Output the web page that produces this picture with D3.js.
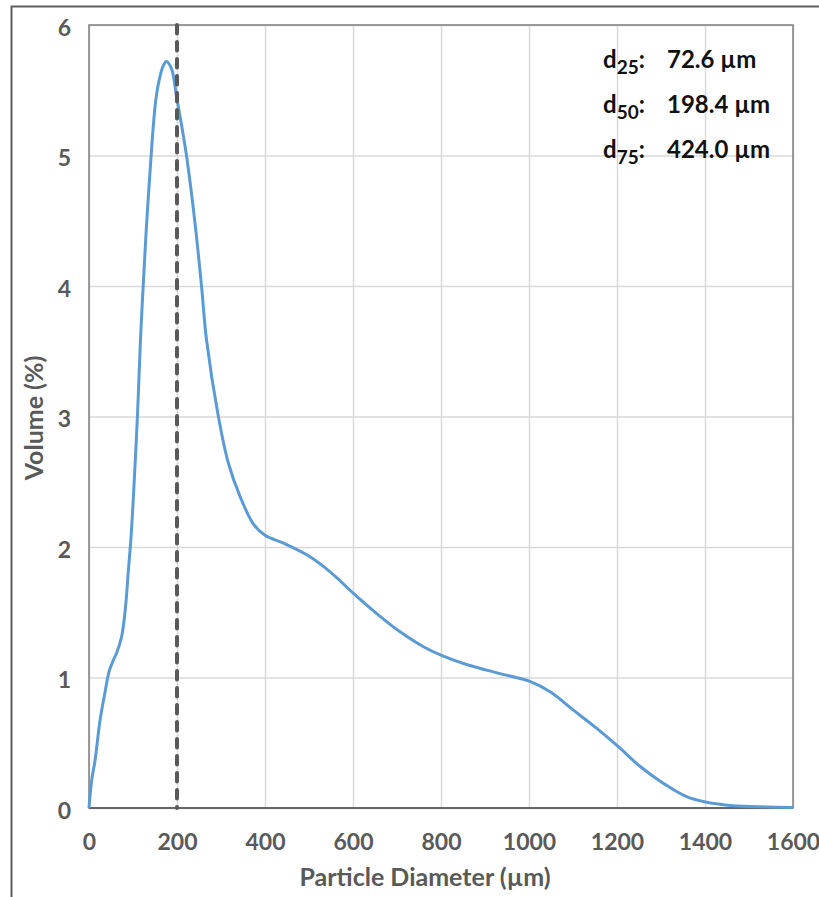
<!DOCTYPE html>
<html>
<head>
<meta charset="utf-8">
<script src="https://cdn.jsdelivr.net/npm/d3@7/dist/d3.min.js"></script>
<style>
  html, body { margin: 0; padding: 0; background: #fff; }
  svg { display: block; font-family: Lato, "Open Sans", sans-serif; }
</style>
</head>
<body>
<svg id="chart" width="819" height="897"></svg>
<script>
// Particle size distribution (volume %) vs particle diameter
const diameter = [0, 6, 14, 25, 36, 46, 55, 63, 74, 83, 89, 95, 101, 110, 117, 123, 131, 141, 146, 152, 161,
  169, 176, 188, 199, 211, 222, 241, 256, 267, 294, 317, 343, 373, 400, 442, 495, 548, 601, 654, 707, 760, 801,
  858, 934, 1002, 1048, 1101, 1154, 1203, 1252, 1305, 1358, 1404, 1464, 1540, 1600];
const volume = [0, 0.21, 0.37, 0.67, 0.88, 1.05, 1.13, 1.19, 1.31, 1.54, 1.80, 2.05, 2.39, 3.0, 3.59, 3.99, 4.48, 4.99, 5.22, 5.43, 5.60,
  5.69, 5.72, 5.66, 5.45, 5.22, 4.99, 4.48, 3.99, 3.59, 3.0, 2.64, 2.39, 2.18, 2.09, 2.03, 1.94, 1.81, 1.645, 1.49, 1.35, 1.236, 1.17,
  1.10, 1.03, 0.97, 0.89, 0.75, 0.61, 0.47, 0.32, 0.19, 0.087, 0.044, 0.018, 0.008, 0.003];

const xTicks = [0, 200, 400, 600, 800, 1000, 1200, 1400, 1600];
const yTicks = [0, 1, 2, 3, 4, 5, 6];

// Characteristic diameters
const statNames = ["25", "50", "75"];
const statValues = ["72.6 µm", "198.4 µm", "424.0 µm"];
const medianDiameter = 200;

const svg = d3.select("#chart");
const plot = { left: 89, top: 25, right: 793, bottom: 808 };

// Outer figure frame
svg.append("rect")
  .attr("x", 11.5).attr("y", 6.5)
  .attr("width", 900).attr("height", 1000)
  .attr("fill", "#fff").attr("stroke", "#5f5f5f").attr("stroke-width", 2);

const x = d3.scaleLinear().domain([0, 1600]).range([plot.left, plot.right]);
const y = d3.scaleLinear().domain([0, 6]).range([plot.bottom, plot.top]);

// Gridlines
const grid = svg.append("g");
grid.append("g")
  .attr("transform", `translate(0,${plot.bottom})`)
  .call(d3.axisBottom(x).tickValues(xTicks).tickSize(-(plot.bottom - plot.top)).tickFormat(""))
  .call(g => g.select(".domain").remove())
  .call(g => g.selectAll("line").attr("stroke", "#d9d9d9").attr("stroke-width", 1.5));
grid.append("g")
  .attr("transform", `translate(${plot.left},0)`)
  .call(d3.axisLeft(y).tickValues(yTicks).tickSize(-(plot.right - plot.left)).tickFormat(""))
  .call(g => g.select(".domain").remove())
  .call(g => g.selectAll("line").attr("stroke", "#d9d9d9").attr("stroke-width", 1.5));

// Plot frame
svg.append("rect")
  .attr("x", plot.left).attr("y", plot.top)
  .attr("width", plot.right - plot.left).attr("height", plot.bottom - plot.top)
  .attr("fill", "none").attr("stroke", "#7f7f7f").attr("stroke-width", 1.5);
svg.append("line")
  .attr("x1", plot.left).attr("x2", plot.right)
  .attr("y1", plot.bottom).attr("y2", plot.bottom)
  .attr("stroke", "#666").attr("stroke-width", 2);

// Distribution curve
const pts = diameter.map((d, i) => [d, volume[i]]);
const line = d3.line().x(d => x(d[0])).y(d => y(d[1])).curve(d3.curveCatmullRom.alpha(0.5));
svg.append("path")
  .datum(pts)
  .attr("d", line)
  .attr("fill", "none")
  .attr("stroke", "#5b9bd5")
  .attr("stroke-width", 3)
  .attr("stroke-linejoin", "round");

// Median marker
svg.append("line")
  .attr("x1", x(medianDiameter)).attr("x2", x(medianDiameter))
  .attr("y1", y(6)).attr("y2", y(0))
  .attr("stroke", "#595959").attr("stroke-width", 4)
  .attr("stroke-dasharray", "8.5,8.5").attr("stroke-linecap", "round");

// Tick labels
const tickStyle = g => g.selectAll("text")
  .attr("fill", "#595959").attr("font-size", 23).attr("font-weight", 700)
  .attr("font-family", "Lato, 'Open Sans', sans-serif");

svg.append("g")
  .attr("transform", `translate(0,${plot.bottom})`)
  .call(d3.axisBottom(x).tickValues(xTicks).tickSize(0).tickPadding(26).tickFormat(d3.format("d")))
  .call(g => g.select(".domain").remove())
  .call(tickStyle);

svg.append("g")
  .attr("transform", `translate(${plot.left},0)`)
  .call(d3.axisLeft(y).tickValues(yTicks).tickSize(0).tickPadding(18).tickFormat(d3.format("d")))
  .call(g => g.select(".domain").remove())
  .call(tickStyle)
  .call(g => g.selectAll("text").attr("dy", "0.45em"));

// Axis titles
svg.append("text")
  .attr("x", 425).attr("y", 886)
  .attr("text-anchor", "middle")
  .attr("fill", "#595959").attr("font-size", 25).attr("font-weight", 700)
  .text("Particle Diameter (µm)");

svg.append("text")
  .attr("transform", "translate(43,418) rotate(-90)")
  .attr("text-anchor", "middle")
  .attr("fill", "#595959").attr("font-size", 25).attr("font-weight", 700)
  .text("Volume (%)");

// Characteristic diameter annotations
const ann = svg.append("g").attr("fill", "#111").attr("font-weight", 700).attr("font-size", 24);
statNames.forEach((name, i) => {
  const by = 67.5 + i * 45.3;
  const t = ann.append("text").attr("x", 603).attr("y", by);
  t.append("tspan").text("d");
  t.append("tspan").attr("font-size", 19).attr("dy", 6).text(name);
  t.append("tspan").attr("dy", -6).text(":");
  ann.append("text").attr("x", 667).attr("y", by).text(statValues[i]);
});
</script>
</body>
</html>
